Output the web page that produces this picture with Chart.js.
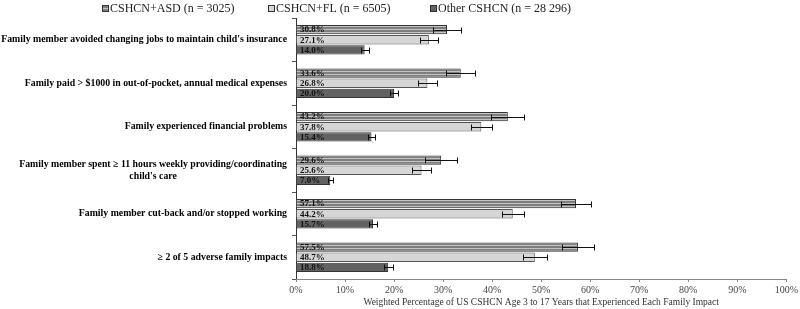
<!DOCTYPE html>
<html>
<head>
<meta charset="utf-8">
<script src="https://cdn.jsdelivr.net/npm/chart.js@4.4.1/dist/chart.umd.min.js"></script>
<style>
  html, body { margin: 0; padding: 0; background: #fff; }
  #wrap { width: 800px; height: 309px; }
</style>
</head>
<body>
<div id="wrap"><canvas id="impactChart" width="800" height="309"></canvas></div>
<script>
const categories = [
    ["Family member avoided changing jobs to maintain child's insurance"],
    ["Family paid > $1000 in out-of-pocket, annual medical expenses"],
    ["Family experienced financial problems"],
    ["Family member spent \u2265 11 hours weekly providing/coordinating", "child's care"],
    ["Family member cut-back and/or stopped working"],
    ["\u2265 2 of 5 adverse family impacts"]
];
const seriesNames = ["CSHCN+ASD (n = 3025)", "CSHCN+FL (n = 6505)", "Other CSHCN (n = 28 296)"];
const asdValues = [30.8, 33.6, 43.2, 29.6, 57.1, 57.5];
const flValues = [27.1, 26.8, 37.8, 25.6, 44.2, 48.7];
const otherValues = [14.0, 20.0, 15.4, 7.0, 15.7, 18.8];
const asdErr = [2.9, 3.0, 3.4, 3.3, 3.1, 3.3];
const flErr = [1.9, 1.9, 2.1, 2.0, 2.2, 2.4];
const otherErr = [0.8, 0.8, 0.8, 0.5, 0.8, 0.9];
const xTicks = [0, 10, 20, 30, 40, 50, 60, 70, 80, 90, 100];

const serif = "'Liberation Serif', 'Times New Roman', serif";

// striped fill for the ASD bars
function stripePattern() {
    const c = document.createElement('canvas');
    c.width = 4; c.height = 3;
    const g = c.getContext('2d');
    g.fillStyle = '#7e7e7e';
    g.fillRect(0, 0, 4, 3);
    g.fillStyle = '#c4c4c4';
    g.fillRect(0, 2, 4, 1);
    return g.createPattern(c, 'repeat');
}
const asdFill = stripePattern();

const errorBars = {
    id: 'errorBars',
    afterDatasetsDraw(chart) {
        const ctx = chart.ctx;
        const x = chart.scales.x;
        ctx.save();
        ctx.strokeStyle = '#111';
        ctx.lineWidth = 1;
        chart.data.datasets.forEach((ds, di) => {
            const meta = chart.getDatasetMeta(di);
            meta.data.forEach((bar, i) => {
                const v = ds.data[i], e = ds.errors[i];
                const x0 = Math.round(x.getPixelForValue(v - e)) + 0.5;
                const x1 = Math.round(x.getPixelForValue(v + e)) + 0.5;
                const y = Math.round(bar.y) + 0.5;
                ctx.beginPath();
                ctx.moveTo(x0, y); ctx.lineTo(x1, y);
                ctx.moveTo(x0, y - 3); ctx.lineTo(x0, y + 3);
                ctx.moveTo(x1, y - 3); ctx.lineTo(x1, y + 3);
                ctx.stroke();
                // value label inside the bar
                ctx.fillStyle = '#111';
                ctx.font = 'bold 9px ' + serif;
                ctx.textAlign = 'left';
                ctx.textBaseline = 'middle';
                ctx.fillText(v.toFixed(1) + '%', x.getPixelForValue(0) + 4, bar.y + 0.5);
            });
        });
        ctx.restore();
    }
};

const sideLabels = {
    id: 'sideLabels',
    afterDraw(chart) {
        const ctx = chart.ctx;
        const y = chart.scales.y;
        const right = y.right - 9;
        ctx.save();
        ctx.fillStyle = '#000';
        ctx.font = 'bold 9.8px ' + serif;
        ctx.textBaseline = 'middle';
        categories.forEach((lines, i) => {
            const cy = y.getPixelForValue(i);
            const top = cy - (lines.length - 1) * 6;
            const w0 = ctx.measureText(lines[0]).width;
            lines.forEach((ln, k) => {
                if (k === 0) {
                    ctx.textAlign = 'right';
                    ctx.fillText(ln, right, top);
                } else {
                    ctx.textAlign = 'center';
                    ctx.fillText(ln, right - w0 / 2, top + k * 12);
                }
            });
        });
        ctx.restore();
    }
};

const topLegend = {
    id: 'topLegend',
    afterDraw(chart) {
        const ctx = chart.ctx;
        const starts = [102, 268, 430];
        ctx.save();
        ctx.font = '12px ' + serif;
        ctx.textBaseline = 'middle';
        ctx.textAlign = 'left';
        chart.data.datasets.forEach((ds, i) => {
            const x0 = starts[i];
            ctx.fillStyle = ds.backgroundColor;
            ctx.fillRect(x0, 5, 7, 7);
            ctx.strokeStyle = '#333';
            ctx.lineWidth = 1;
            ctx.strokeRect(x0 + 0.5, 5.5, 6, 6);
            ctx.fillStyle = '#222';
            ctx.fillText(ds.label, x0 + 8, 8.5);
        });
        ctx.restore();
    }
};

new Chart(document.getElementById('impactChart').getContext('2d'), {
    type: 'bar',
    data: {
        labels: categories.map(c => c.join(' ')),
        datasets: [
            { label: seriesNames[0], data: asdValues, errors: asdErr, backgroundColor: asdFill, borderColor: '#333', borderWidth: 1 },
            { label: seriesNames[1], data: flValues, errors: flErr, backgroundColor: '#d6d6d6', borderColor: '#555', borderWidth: 1 },
            { label: seriesNames[2], data: otherValues, errors: otherErr, backgroundColor: '#626262', borderColor: '#333', borderWidth: 1 }
        ]
    },
    options: {
        indexAxis: 'y',
        responsive: false,
        animation: false,
        categoryPercentage: 0.7,
        barPercentage: 0.92,
        layout: { padding: { top: 18, right: 11, left: 0, bottom: 0 } },
        plugins: {
            legend: { display: false },
            tooltip: { enabled: false }
        },
        scales: {
            y: {
                grid: { offset: true, drawOnChartArea: false, tickLength: 4, color: '#555' },
                border: { color: '#333' },
                ticks: { display: false },
                afterFit(s) { s.width = 296; }
            },
            x: {
                min: 0, max: 100,
                afterBuildTicks(s) { s.ticks = xTicks.map(v => ({ value: v })); },
                afterFit(s) { s.height = 30; },
                grid: { drawOnChartArea: false, tickLength: 3, color: '#888' },
                border: { color: '#888' },
                ticks: {
                    color: '#444',
                    font: { family: serif, size: 10 },
                    padding: 2,
                    callback: v => v + '%'
                },
                title: {
                    display: true,
                    text: 'Weighted Percentage of US CSHCN Age 3 to 17 Years that Experienced Each Family Impact',
                    color: '#333',
                    font: { family: serif, size: 9.5 },
                    padding: { top: 0, bottom: 1 }
                }
            }
        }
    },
    plugins: [errorBars, sideLabels, topLegend]
});
</script>
</body>
</html>
